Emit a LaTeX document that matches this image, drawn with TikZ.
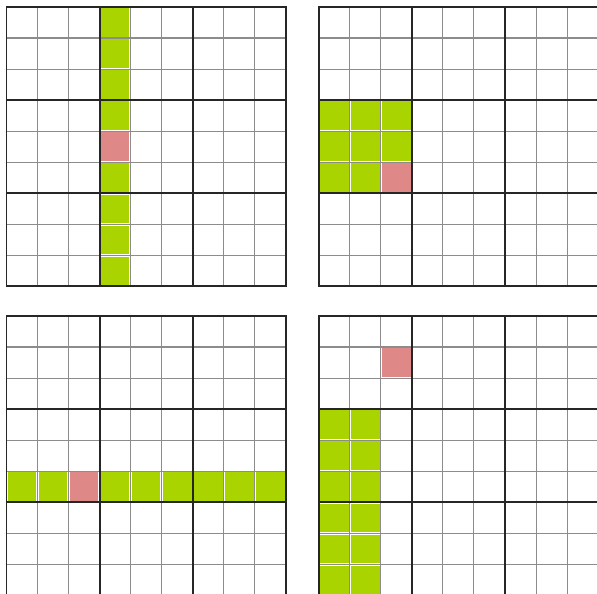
\documentclass[tikz,border=0pt]{standalone}
\usepackage{tikz}
\usetikzlibrary{calc}
\definecolor{sdkgreen}{RGB}{170,212,0}
\definecolor{sdkpink}{RGB}{222,136,136}
\definecolor{sdkgray}{RGB}{140,140,140}
% one filled cell, a little inset from the grid lines
\newcommand\sdkcell[3]{\fill[#1] (#2+0.04,#3+0.04) rectangle (#2+0.96,#3+0.96);}
% the 9x9 lines of one grid
\newcommand\sdklines{%
  \foreach \i in {1,2,4,5,7,8} {
    \draw[thinline] (\i,0) -- (\i,9);
    \draw[thinline] (0,\i) -- (9,\i);
  }
  \foreach \i in {0,3,6,9} {
    \draw[boxline] (\i,0) -- (\i,9);
    \draw[boxline] (0,\i) -- (9,\i);
  }}
\begin{document}
\begin{tikzpicture}[x=0.5cm, y=-0.5cm,
    thinline/.style={sdkgray, line width=0.5pt},
    boxline/.style={black!85, line width=0.9pt, line cap=rect}
  ]
  \useasboundingbox (0,0) rectangle (19.227,19.130);
  \clip (0,0) rectangle (19.227,19.130);

  % column
  \begin{scope}[shift={(0.209,0.225)}]
    \foreach \r in {0,...,8} {\sdkcell{sdkgreen}{3}{\r}}
    \sdkcell{sdkpink}{3}{4}
    \sdklines
  \end{scope}

  % box
  \begin{scope}[shift={(10.264,0.225)}]
    \foreach \c in {0,1,2} {
      \foreach \r in {3,4,5} {\sdkcell{sdkgreen}{\c}{\r}}
    }
    \sdkcell{sdkpink}{2}{5}
    \sdklines
  \end{scope}

  % row
  \begin{scope}[shift={(0.209,10.177)}]
    \foreach \c in {0,...,8} {\sdkcell{sdkgreen}{\c}{5}}
    \sdkcell{sdkpink}{2}{5}
    \sdklines
  \end{scope}

  % two columns below a box
  \begin{scope}[shift={(10.264,10.177)}]
    \foreach \c in {0,1} {
      \foreach \r in {3,...,8} {\sdkcell{sdkgreen}{\c}{\r}}
    }
    \sdkcell{sdkpink}{2}{1}
    \sdklines
  \end{scope}
\end{tikzpicture}
\end{document}
